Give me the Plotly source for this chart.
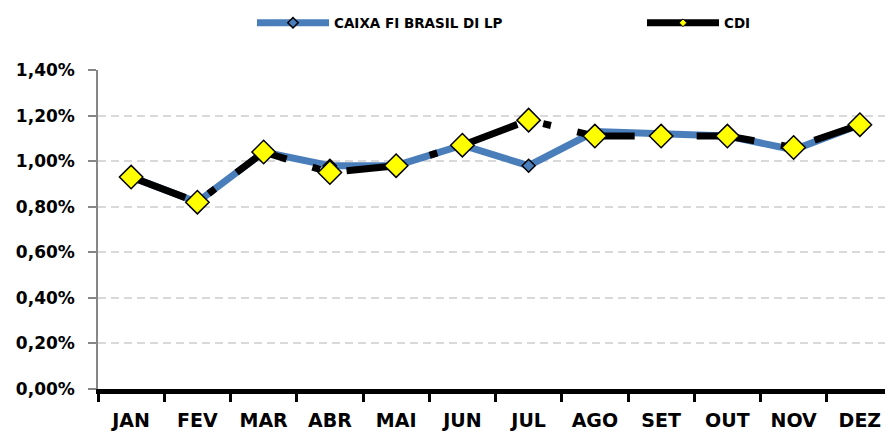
import plotly.graph_objects as go

months = ["JAN", "FEV", "MAR", "ABR", "MAI", "JUN", "JUL", "AGO", "SET", "OUT", "NOV", "DEZ"]
caixa = [0.93, 0.82, 1.04, 0.98, 0.98, 1.07, 0.98, 1.13, 1.12, 1.11, 1.05, 1.16]
cdi = [0.93, 0.82, 1.04, 0.95, 0.98, 1.07, 1.18, 1.11, 1.11, 1.11, 1.06, 1.16]
name_caixa = "CAIXA FI BRASIL DI LP"
name_cdi = "CDI"
y_ticks = [0.0, 0.2, 0.4, 0.6, 0.8, 1.0, 1.2, 1.4]
y_ticktext = [f"{v:.2f}%".replace(".", ",") for v in y_ticks]

BLUE = "#4a7ebb"
FONT = "DejaVu Sans"
OFF = 8  # page body margin

fig = go.Figure()
fig.add_trace(go.Scatter(
    x=months, y=caixa, mode="lines+markers", showlegend=False,
    line=dict(color=BLUE, width=7),
    marker=dict(symbol="diamond", size=10, color=BLUE, line=dict(color="black", width=1.5)),
))
fig.add_trace(go.Scatter(
    x=months, y=cdi, mode="lines+markers", showlegend=False,
    line=dict(color="black", width=7, dash="58px,27px,8px,27px"),
    marker=dict(symbol="diamond", size=18, color="#ffff00", line=dict(color="black", width=1.5)),
))
# legend entries
fig.add_trace(go.Scatter(
    x=[None], y=[None], mode="lines+markers", name=name_caixa,
    line=dict(color=BLUE, width=7),
    marker=dict(symbol="diamond", size=8, color=BLUE, line=dict(color="black", width=1.5)),
))
fig.add_trace(go.Scatter(
    x=[None], y=[None], mode="lines+markers", name=name_cdi,
    line=dict(color="black", width=7),
    marker=dict(symbol="diamond", size=6, color="#ffff00", line=dict(color="black", width=1)),
))

W, H = 893 - OFF, 433 - OFF
fig.update_layout(
    width=W, height=H,
    margin=dict(l=98 - OFF, r=0, t=70 - OFF, b=44, autoexpand=False),
    paper_bgcolor="white", plot_bgcolor="white",
    font=dict(family=FONT, color="black"),
    legend=dict(
        orientation="h", xref="container", yref="container",
        x=(252 - OFF) / W, xanchor="left", y=1 - (23 - OFF) / H, yanchor="middle",
        itemwidth=72, entrywidth=303,
        font=dict(family=FONT, size=13.5, color="black", weight="bold"),
        bgcolor="rgba(0,0,0,0)",
    ),
    xaxis=dict(
        range=[-0.5, 11.5], showgrid=False, zeroline=False,
        showline=True, linecolor="black", linewidth=5,
        ticks="outside", tickson="boundaries", ticklen=8, tickwidth=3, tickcolor="black",
        tickfont=dict(family=FONT, size=19, color="black", weight="bold"),
        ticklabelstandoff=10, automargin=False,
    ),
    yaxis=dict(
        range=[0, 1.4], tickvals=y_ticks, ticktext=y_ticktext,
        showgrid=True, gridcolor="#d9d9d9", griddash="8px,5px", gridwidth=1.5,
        zeroline=False, showline=True, linecolor="#868686", linewidth=1.5,
        ticks="outside", ticklen=8, tickwidth=1.5, tickcolor="#868686",
        tickfont=dict(family=FONT, size=17, color="black", weight="bold"),
        ticklabelstandoff=10, automargin=False,
    ),
)

fig.write_html("out.html")
